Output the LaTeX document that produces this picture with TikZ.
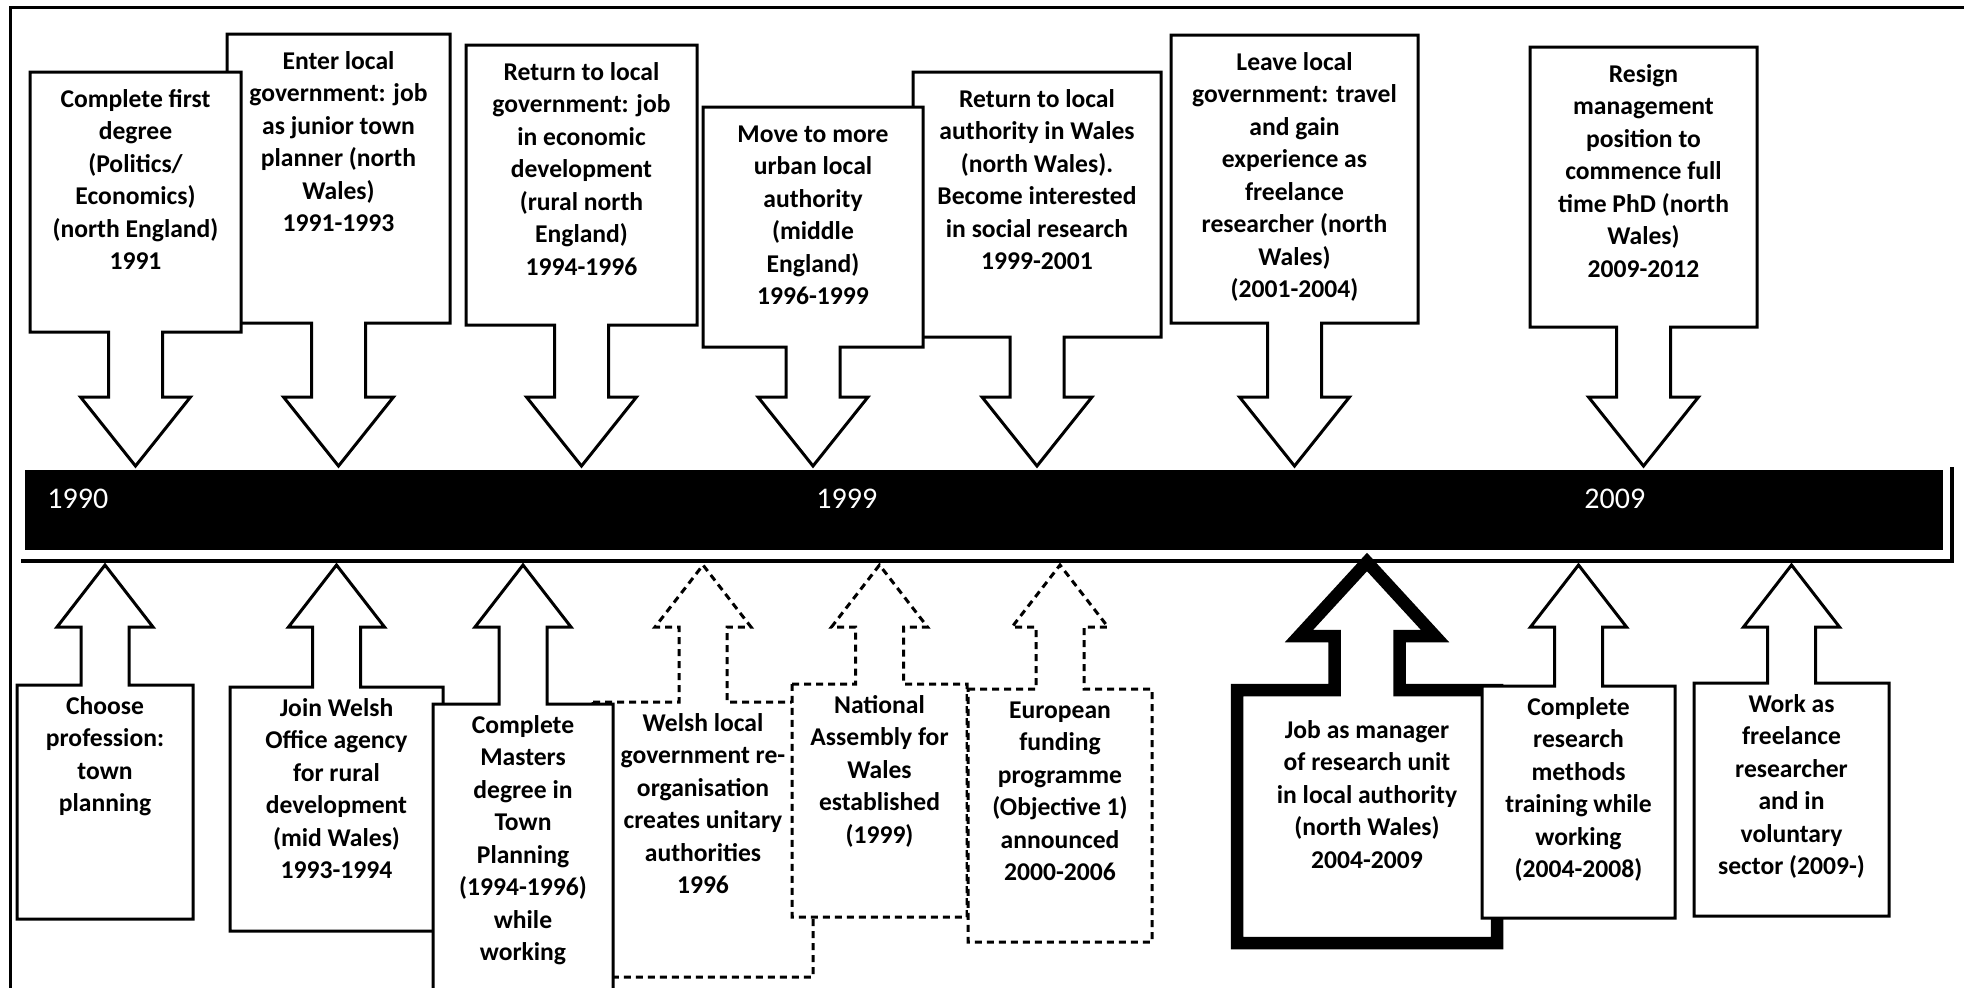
\documentclass[tikz,border=0pt]{standalone}
\usepackage{fontspec}
\setmainfont{Carlito}

% Callout geometry: box (left, right, top, bottom) plus an arrow
% whose stem and head sizes are kept in the macros below.
\newcommand\armstem{27}
\newcommand\armhead{55}
\newcommand\armbase{397}
\newcommand\armtip{466}
\newcommand\txtoff{12}

% #1 style, #2 name, #3 left, #4 right, #5 top, #6 bottom, #7 text
\newcommand\downcallout[7]{%
  \pgfmathsetmacro\callx{(#3+#4)/2}%
  \draw[#1] (#3,#5) -- (#4,#5) -- (#4,#6)
    -- (\callx+\armstem,#6) -- (\callx+\armstem,\armbase)
    -- (\callx+\armhead,\armbase) -- (\callx,\armtip)
    -- (\callx-\armhead,\armbase) -- (\callx-\armstem,\armbase)
    -- (\callx-\armstem,#6) -- (#3,#6) -- cycle;
  \node[event text] (#2) at (\callx,#5+\txtoff) {\strut #7};
}
\newcommand\upcallout[7]{%
  \pgfmathsetmacro\callx{(#3+#4)/2}%
  \draw[#1] (#3,#5) -- (\callx-\armstem,#5) -- (\callx-\armstem,\armbase)
    -- (\callx-\armhead,\armbase) -- (\callx,\armtip)
    -- (\callx+\armhead,\armbase) -- (\callx+\armstem,\armbase)
    -- (\callx+\armstem,#5) -- (#4,#5) -- (#4,#6) -- (#3,#6) -- cycle;
  \node[event text] (#2) at (\callx,#5+\txtoff) {\strut #7};
}

\begin{document}
\begin{tikzpicture}[x=0.5pt,y=-0.5pt,
  plain box/.style={draw=black,fill=white,line width=1.5pt,line join=miter},
  dashed box/.style={plain box,dash pattern=on 3.5pt off 2.5pt},
  heavy box/.style={plain box,line width=6.25pt},
  event text/.style={anchor=north,inner sep=0pt,align=center,
    font=\bfseries\fontsize{12.8}{16.25}\selectfont},
  year text/.style={anchor=base west,inner sep=0pt,text=white,
    font=\fontsize{15}{18}\selectfont}]

\useasboundingbox (0,0) rectangle (1964,987);
\clip (0,0) rectangle (1964,987);
\fill[white] (0,0) rectangle (1964,987);

% outer frame
\draw[line width=1.5pt] (1980,7) -- (10,7) -- (10,1000);

% time bar with its offset outline
\draw[line width=2pt] (21,561) -- (1952,561) -- (1952,467);
\fill[black] (25,470) rectangle (1943,550);
\node[year text] (y1990) at (47,508.7) {1990};
\node[year text] (y1999) at (816,508.7) {1999};
\node[year text] (y2009) at (1584,508.7) {2009};

% events above the bar
\downcallout{plain box}{enter}{227}{450}{34}{323}{Enter local\\government: job\\as junior town\\planner (north\\Wales)\\1991-1993}
\downcallout{plain box}{degree}{30}{241}{72}{332}{Complete first\\degree\\(Politics/\\Economics)\\(north England)\\1991}
\downcallout{plain box}{econdev}{466}{697}{45}{325}{Return to local\\government: job\\in economic\\development\\(rural north\\England)\\1994-1996}
\downcallout{plain box}{wales}{913}{1161}{72}{337}{Return to local\\authority in Wales\\(north Wales).\\Become interested\\in social research\\1999-2001}
\downcallout{plain box}{urban}{703}{923}{107}{347}{Move to more\\urban local\\authority\\(middle\\England)\\1996-1999}
\downcallout{plain box}{leave}{1171}{1418}{35}{323}{Leave local\\government: travel\\and gain\\experience as\\freelance\\researcher (north\\Wales)\\(2001-2004)}
\downcallout{plain box}{resign}{1530}{1757}{47}{327}{Resign\\management\\position to\\commence full\\time PhD (north\\Wales)\\2009-2012}

% events below the bar
\renewcommand\armstem{24}
\renewcommand\armhead{48}
\renewcommand\armbase{627}
\renewcommand\armtip{565}
\renewcommand\txtoff{6}
\upcallout{plain box}{choose}{17}{193}{685}{919}{Choose\\profession:\\town\\planning}
\upcallout{plain box}{welshoffice}{230}{443}{687}{931}{Join Welsh\\Office agency\\for rural\\development\\(mid Wales)\\1993-1994}
\upcallout{dashed box}{reorg}{593}{813}{702}{977}{Welsh local\\government re-\\organisation\\creates unitary\\authorities\\1996}
\upcallout{plain box}{masters}{433}{613}{704}{1010}{Complete\\Masters\\degree in\\Town\\Planning\\(1994-1996)\\while\\working}
\upcallout{dashed box}{assembly}{792}{967}{684}{917}{National\\Assembly for\\Wales\\established\\(1999)}
\upcallout{dashed box}{funding}{968}{1152}{689}{942}{European\\funding\\programme\\(Objective 1)\\announced\\2000-2006}
\begingroup
\renewcommand\armstem{32.5}
\renewcommand\armhead{68}
\renewcommand\armbase{636}
\renewcommand\armtip{562}
\renewcommand\txtoff{25}
\upcallout{heavy box}{manager}{1237}{1497}{690}{943}{Job as manager\\of research unit\\in local authority\\(north Wales)\\2004-2009}
\endgroup
\upcallout{plain box}{methods}{1482}{1675}{686}{918}{Complete\\research\\methods\\training while\\working\\(2004-2008)}
\upcallout{plain box}{freelance}{1694}{1889}{683}{916}{Work as\\freelance\\researcher\\and in\\voluntary\\sector (2009-)}

\end{tikzpicture}
\end{document}
